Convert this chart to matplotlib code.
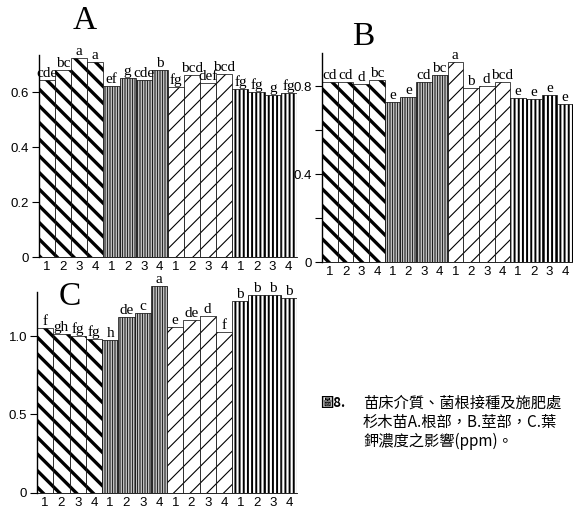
import matplotlib
matplotlib.use("Agg")
import matplotlib.pyplot as plt
import numpy as np

# ---------------- data ----------------
tick_labels = ["1", "2", "3", "4"] * 4

values_A = [0.645, 0.68, 0.725, 0.712,
            0.624, 0.653, 0.646, 0.682,
            0.62, 0.664, 0.635, 0.668,
            0.613, 0.603, 0.59, 0.599]
letters_A = ["cde", "bc", "a", "a",
             "ef", "g", "cde", "b",
             "fg", "bcd", "def", "bcd",
             "fg", "fg", "g", "fg"]

values_B = [0.82, 0.82, 0.81, 0.83,
            0.73, 0.75, 0.82, 0.85,
            0.91, 0.79, 0.80, 0.82,
            0.745, 0.74, 0.76, 0.72]
letters_B = ["cd", "cd", "d", "bc",
             "e", "e", "cd", "bc",
             "a", "b", "d", "bcd",
             "e", "e", "e", "e"]

values_C = [1.05, 1.01, 1.00, 0.98,
            0.977, 1.12, 1.146, 1.32,
            1.06, 1.10, 1.13, 1.025,
            1.227, 1.26, 1.26, 1.245]
letters_C = ["f", "gh", "fg", "fg",
             "h", "de", "c", "a",
             "e", "de", "d", "f",
             "b", "b", "b", "b"]

yticks_A = [0, 0.2, 0.4, 0.6]
yticklabels_A = ["0", "0.2", "0.4", "0.6"]
yticks_B = [0, 0.2, 0.4, 0.6, 0.8]
yticklabels_B = ["0", "", "0.4", "", "0.8"]
yticks_C = [0, 0.5, 1.0]
yticklabels_C = ["0", "0.5", "1.0"]

caption_lines = ["苗床介質、菌根接種及施肥處",
                 "杉木苗A.根部，B.莖部，C.葉",
                 "鉀濃度之影響(ppm)。"]
caption_head = "圖8."

# group styles: hatch, hatch linewidth
group_styles = [("\\\\", 2.4), ("||||||||||", 0.6), ("//", 0.8), ("||||", 1.4)]

plt.rcParams['hatch.color'] = 'black'
plt.rcParams['font.family'] = ['Liberation Serif', 'DejaVu Serif']

fig = plt.figure(figsize=(5.73, 5.12), dpi=100)


def panel(rect, values, letters, ylim, yt, ytl, title, title_xy, spine_top):
    ax = fig.add_axes(rect)
    x = np.arange(len(values))
    for g in range(4):
        hatch, hlw = group_styles[g]
        idx = x[g * 4:(g + 1) * 4]
        vals = values[g * 4:(g + 1) * 4]
        with plt.rc_context({'hatch.linewidth': hlw}):
            bars = ax.bar(idx, vals, width=1.0, color='white', edgecolor='black',
                          linewidth=0.5, hatch=hatch)
        for b in bars:
            try:
                b.set_hatch_linewidth(hlw)
            except Exception:
                pass
    for xi, v, lab in zip(x, values, letters):
        ax.text(xi, v, lab, ha='center', va='bottom',
                fontsize=11, family=['Liberation Serif'])
    ax.set_xlim(-0.5, 15.5)
    ax.set_ylim(*ylim)
    ax.set_xticks(x)
    ax.set_xticklabels(tick_labels, fontsize=9.5, family=['Liberation Sans', 'DejaVu Sans'])
    ax.tick_params(axis='x', length=0, pad=3)
    ax.set_yticks(yt)
    ax.set_yticklabels(ytl, fontsize=9.5, family=['Liberation Sans', 'DejaVu Sans'])
    ax.tick_params(axis='y', length=5, width=0.8, direction='out', pad=2)
    for s in ['top', 'right']:
        ax.spines[s].set_visible(False)
    ax.spines['bottom'].set_linewidth(0.6)
    ax.spines['left'].set_linewidth(1.0)
    ax.spines['left'].set_bounds(0, spine_top)
    ax.patch.set_alpha(0)
    fig.text(title_xy[0], title_xy[1], title, fontsize=24, ha='center', va='center',
             family=['Liberation Serif'])
    return ax


panel([0.068, 0.498, 0.450, 0.402], values_A, letters_A, (0, 0.75),
      yticks_A, yticklabels_A, "A", (85 / 573, 1 - 21 / 512), 0.737)
panel([0.562, 0.488, 0.438, 0.408], values_B, letters_B, (0, 0.95),
      yticks_B, yticklabels_B, "B", (363 / 573, 1 - 37 / 512), 0.95)
panel([0.0646, 0.0377, 0.454, 0.413], values_C, letters_C, (0, 1.35),
      yticks_C, yticklabels_C, "C", (70 / 573, 1 - 297 / 512), 1.28)

cjk = ['Noto Sans CJK TC', 'DejaVu Sans']
fig.text(320 / 573, 1 - 403 / 512, caption_head, fontsize=9.5, va='center', ha='left',
         family=cjk, fontweight='bold')
for i, line in enumerate(caption_lines):
    fig.text(363 / 573, 1 - (403 + 19 * i) / 512, line, fontsize=11, va='center',
             ha='left', family=cjk)

fig.savefig("out.png", dpi=100)
